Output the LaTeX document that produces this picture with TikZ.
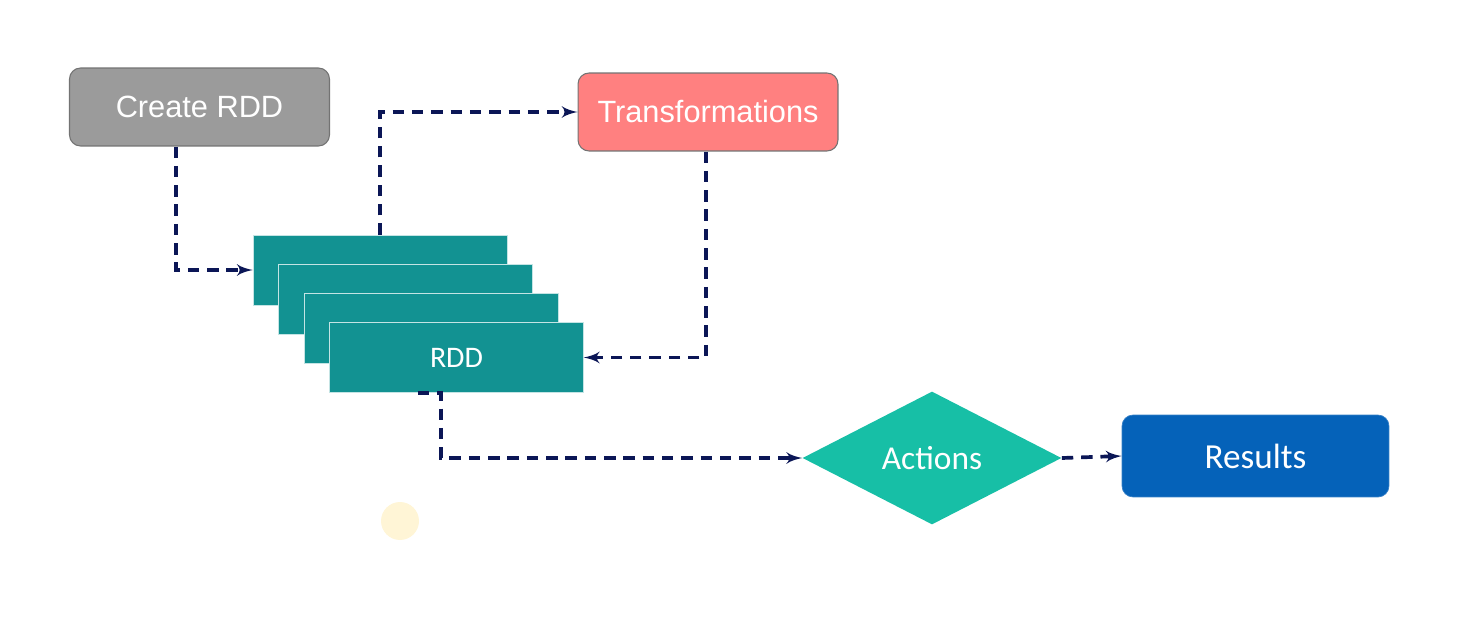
\documentclass[tikz,border=0pt]{standalone}
\usepackage{fontspec}
\setmainfont{Liberation Sans}
\newfontfamily\carlito{Carlito}
\usepackage{tikz}
\usetikzlibrary{shapes.geometric,arrows,positioning}
\definecolor{stonegray}{HTML}{9B9B9B}
\definecolor{salmonpink}{HTML}{FF8080}
\definecolor{deepteal}{HTML}{129292}
\definecolor{seagreen}{HTML}{17BFA6}
\definecolor{oceanblue}{HTML}{0562B9}
\definecolor{inkblue}{HTML}{0B1656}
\definecolor{paleyellow}{HTML}{FFF5D6}
\tikzstyle{block} = [rectangle, draw=black!55, line width=0.6pt, rounded corners=0.22cm,
    text=white, font=\fontsize{17.5}{20}\selectfont, minimum width=5.2cm, minimum height=1.56cm]
\tikzstyle{layer} = [rectangle, draw=white!75!deepteal, line width=0.4pt, fill=deepteal,
    text=white, font=\carlito\fontsize{17}{20}\selectfont, minimum width=5.08cm, minimum height=1.4cm]
\tikzstyle{decision} = [diamond, fill=seagreen, inner sep=0pt, text=white,
    font=\carlito\fontsize{19}{22}\selectfont, minimum width=5.18cm, minimum height=2.66cm]
\tikzstyle{result} = [rectangle, fill=oceanblue, draw=oceanblue!80!white, rounded corners=0.22cm,
    text=white, font=\carlito\fontsize{20}{24}\selectfont, minimum width=5.34cm, minimum height=1.64cm]
\tikzstyle{line} = [draw=inkblue, line width=2.1pt, dash pattern=on 6.5pt off 4.5pt, -latex']

\begin{document}
\begin{tikzpicture}[x=0.02cm, y=-0.02cm]
\useasboundingbox (0,0) rectangle (1457,635);

\node [block, fill=stonegray] (create) at (199.5,107) {Create RDD};
\node [block, fill=salmonpink] (trans) at (708,112) {Transformations};

% stacked partitions
\node [layer] (rddA) at (380,270) {};
\node [layer] (rddB) at (405,299) {};
\node [layer] (rddC) at (431,328) {};
\node [layer] (rddD) at (456.5,357.5) {RDD};

\node [decision] (act) at (932,458) {Actions};
\node [result] (res) at (1255.5,456) {Results};

\fill [paleyellow] (400,521) circle (0.38cm);

\path [line] (create.south -| 176,0) |- (rddA.west);
\path [line] (rddA.north) |- (trans.west);
\path [line] (trans.south -| 706,0) |- (rddD.east);
\path [line] (rddD.south -| 418,0) -- (rddD.south -| 441,0) |- (act.west);
\path [line] (act.east) -- (res.west);
\end{tikzpicture}
\end{document}
